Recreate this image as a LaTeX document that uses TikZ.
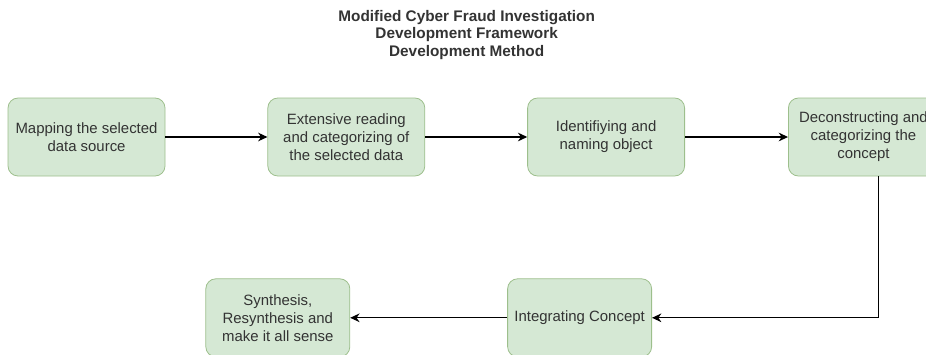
\documentclass[tikz,border=0pt]{standalone}
\usepackage{fontspec}
\setmainfont{Liberation Sans}
\usepackage{tikz}
\usetikzlibrary{positioning,arrows.meta}

\definecolor{boxfill}{HTML}{D5E8D4}
\definecolor{boxline}{HTML}{9DBF8C}
\definecolor{boxtext}{HTML}{333333}

\tikzset{
  stepbox/.style={draw=boxline,fill=boxfill,rounded corners=7.5pt,line width=0.6pt,
    minimum width=117.75pt,minimum height=58.5pt,align=center,text=boxtext,
    inner sep=2pt,font=\fontsize{11.2}{13.5}\selectfont},
  smallbox/.style={stepbox,minimum width=108pt},
  flow/.style={-{Stealth[length=7pt,width=6.5pt]},line width=0.9pt,black}
}

\begin{document}
\begin{tikzpicture}

  \useasboundingbox (0,0) rectangle (694.5pt,-265.5pt);

  % Title
  \node [align=center,text=black!80,font=\bfseries\fontsize{11.5}{13}\selectfont] (title) at (350pt,-26.2pt)
    {Modified Cyber Fraud Investigation\\Development Framework\\Development Method};

  % Step 1
  \node [stepbox] (s1) at (64.9pt,-102.75pt) {Mapping the selected\\data source};

  % Step 2
  \node [stepbox,right=76.5pt of s1] (s2) {Extensive reading\\and categorizing of\\the selected data};
  \draw [flow] (s1) -- (s2);

  % Step 3
  \node [stepbox,right=76.5pt of s2] (s3) {Identifiying and\\naming object};
  \draw [flow] (s2) -- (s3);

  % Step 4 (runs off the right edge)
  \node [stepbox,minimum width=112.5pt,right=77.25pt of s3] (s4) {Deconstructing and\\categorizing the\\concept};
  \draw [flow] (s3) -- (s4);

  % Step 5
  \node [smallbox,below left=76.5pt and 102pt of s4] (s5) {Integrating Concept};
  \draw [flow] ([xshift=11.25pt]s4.south) |- (s5);

  % Step 6
  \node [smallbox,left=117.75pt of s5] (s6) {Synthesis,\\Resynthesis and\\make it all sense};
  \draw [flow] (s5) -- (s6);

\end{tikzpicture}
\end{document}
